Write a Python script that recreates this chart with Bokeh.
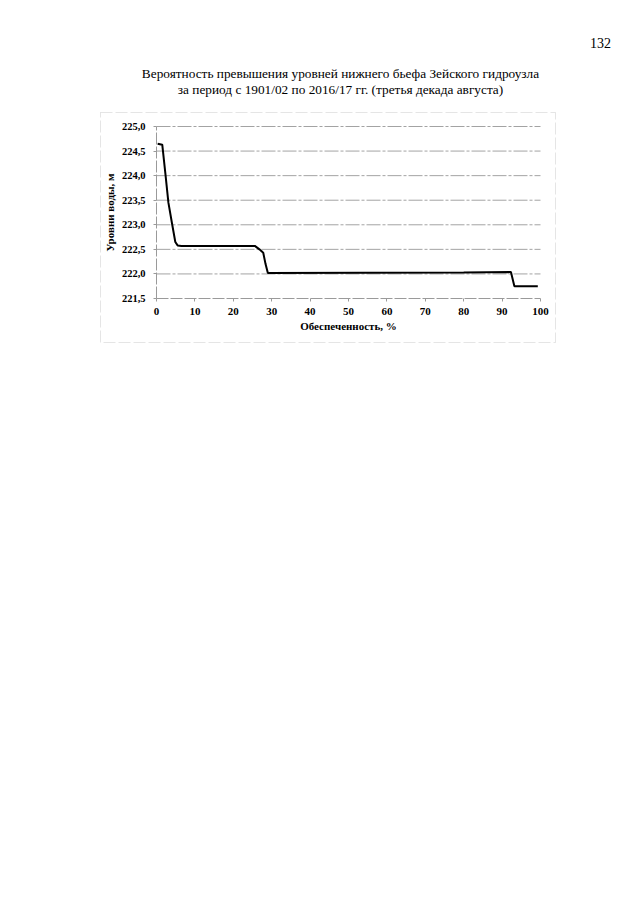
from bokeh.plotting import figure
from bokeh.models import Range1d, FixedTicker, Label, BoxAnnotation, LinearAxis
from bokeh.embed import file_html
from bokeh.resources import INLINE

# Data
supply_pct = [0.3, 1.5, 2.3, 3.1, 4.1, 4.9, 5.5, 6.5, 25.6, 26.8, 27.8, 28.4, 29.0, 80.0, 92.3, 93.2, 99.3]
level_m = [224.65, 224.63, 224.05, 223.45, 223.0, 222.65, 222.58, 222.57, 222.57, 222.5, 222.43, 222.2, 222.02, 222.03, 222.04, 221.75, 221.75]

x_ticks = [0, 10, 20, 30, 40, 50, 60, 70, 80, 90, 100]
y_ticks = [221.5, 222.0, 222.5, 223.0, 223.5, 224.0, 224.5, 225.0]
y_tick_labels = ["221,5", "222,0", "222,5", "223,0", "223,5", "224,0", "224,5", "225,0"]
y_grid = [222.0, 222.5, 223.0, 223.5, 224.0, 224.5, 225.0]

title_lines = ["Вероятность превышения уровней нижнего бьефа Зейского гидроузла",
               "за период с 1901/02 по 2016/17 гг. (третья декада августа)"]
page_number = "132"
x_title = "Обеспеченность, %"
y_title = "Уровни воды, м"

# ---- page layout (pixels) ----
W, H = 624, 889
PX_X0, PX_X1 = 156.0, 540.0     # pixel positions of x = 0 and x = 100
PX_YT, PX_YB = 126.0, 298.0     # pixel positions of y = 225.0 and y = 221.5
x_lo, x_hi = x_ticks[0], x_ticks[-1]
y_lo, y_hi = y_ticks[0], y_ticks[-1]
kx = (x_hi - x_lo) / (PX_X1 - PX_X0)
ky = (y_hi - y_lo) / (PX_YB - PX_YT)
x_range = Range1d(x_lo - PX_X0 * kx, x_hi + (W - PX_X1) * kx)
y_range = Range1d(y_lo - (H - PX_YB) * ky, y_hi + PX_YT * ky)

p = figure(width=W, height=H, output_backend="svg", toolbar_location=None,
           x_range=x_range, y_range=y_range, x_axis_type=None, y_axis_type=None,
           min_border=0)
p.outline_line_color = None
p.background_fill_color = "white"
p.border_fill_color = "white"
p.xgrid.visible = False
p.ygrid.visible = False

FONT = "Liberation Serif"

# horizontal grid lines across the data domain
p.segment(x0=[x_lo] * len(y_grid), x1=[x_hi] * len(y_grid), y0=y_grid, y1=y_grid,
          line_color="#a3a3a3", line_width=1, line_dash="14 2 3 2")

# the series
p.line(supply_pct, level_m, line_color="black", line_width=2)

# axes at fixed locations
yax = LinearAxis(fixed_location=x_lo, bounds=(y_lo, y_hi), ticker=FixedTicker(ticks=y_ticks),
                 axis_label=y_title)
yax.major_label_overrides = {t: l for t, l in zip(y_ticks, y_tick_labels)}
xax = LinearAxis(fixed_location=y_lo, bounds=(x_lo, x_hi), ticker=FixedTicker(ticks=x_ticks),
                 axis_label=x_title)
for ax in (xax, yax):
    ax.axis_line_color = "#9a9a9a"
    ax.axis_line_dash = "12 2"
    ax.major_tick_line_color = "#9a9a9a"
    ax.minor_tick_line_color = None
    ax.major_tick_in = 0
    ax.major_tick_out = 3
    ax.major_label_text_font = FONT
    ax.major_label_text_font_style = "bold"
    ax.major_label_text_font_size = "10.5px"
    ax.major_label_text_color = "black"
    ax.axis_label_text_font = FONT
    ax.axis_label_text_font_style = "bold"
    ax.axis_label_text_font_size = "11px"
    ax.axis_label_text_color = "black"
xax.major_label_text_font_size = "11px"
xax.major_label_standoff = 6
yax.major_label_standoff = 8
xax.axis_label_standoff = 2
yax.axis_label_standoff = 3
p.add_layout(yax, "left")
p.add_layout(xax, "below")

# chart title and page number (screen units, y measured from the bottom)
p.add_layout(Label(x=340, y=H - 73, x_units="screen", y_units="screen", text=title_lines[0],
                   text_font=FONT, text_font_size="13.3px", text_align="center", text_baseline="middle",
                   text_color="black"))
p.add_layout(Label(x=340, y=H - 89, x_units="screen", y_units="screen", text=title_lines[1],
                   text_font=FONT, text_font_size="13.3px", text_align="center", text_baseline="middle",
                   text_color="black"))
p.add_layout(Label(x=600, y=H - 42, x_units="screen", y_units="screen", text=page_number,
                   text_font=FONT, text_font_size="14px", text_align="center", text_baseline="middle",
                   text_color="black"))

# outer chart border
p.add_layout(BoxAnnotation(left=100, right=555, top=H - 112, bottom=H - 342,
                           left_units="screen", right_units="screen", top_units="screen", bottom_units="screen",
                           fill_alpha=0, line_color="#a8a8a8", line_width=1, line_dash="12 3"))

open("out.html", "w").write(file_html(p, INLINE))
